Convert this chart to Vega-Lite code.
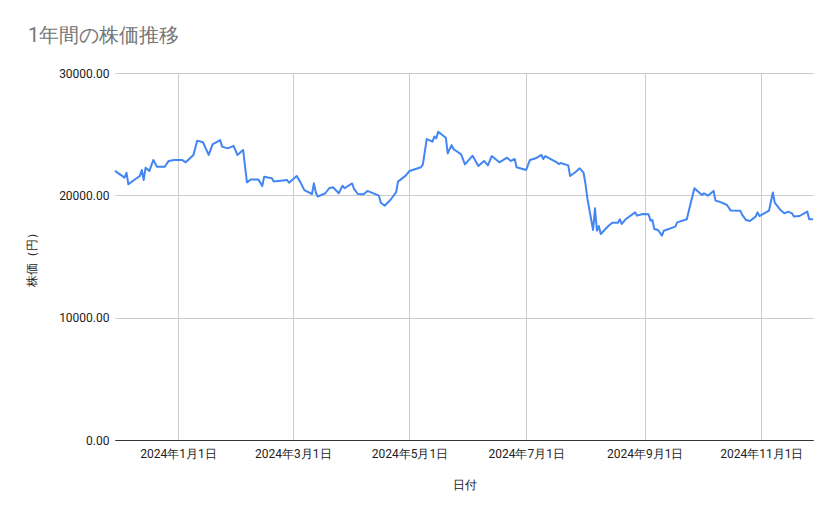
{
  "$schema": "https://vega.github.io/schema/vega-lite/v6.json",
  "width": 698,
  "height": 367,
  "autosize": "none",
  "padding": {"left": 115, "top": 73, "right": 26, "bottom": 79},
  "background": "white",
  "title": {
    "text": "1年間の株価推移",
    "anchor": "start",
    "frame": "group",
    "dx": -87,
    "offset": 5,
    "baseline": "alphabetic",
    "fontSize": 20,
    "fontWeight": "normal",
    "color": "#757575",
    "font": "Roboto"
  },
  "config": {
    "font": "Roboto",
    "view": {"stroke": null}
  },
  "data": {
    "values": [
      {"date": "2023-11-29", "price": 22000},
      {"date": "2023-12-04", "price": 21450},
      {"date": "2023-12-05", "price": 21850},
      {"date": "2023-12-06", "price": 20900},
      {"date": "2023-12-09", "price": 21250},
      {"date": "2023-12-12", "price": 21580},
      {"date": "2023-12-13", "price": 22070},
      {"date": "2023-12-14", "price": 21250},
      {"date": "2023-12-15", "price": 22260},
      {"date": "2023-12-17", "price": 22000},
      {"date": "2023-12-19", "price": 22890},
      {"date": "2023-12-21", "price": 22340},
      {"date": "2023-12-25", "price": 22340},
      {"date": "2023-12-27", "price": 22800},
      {"date": "2023-12-30", "price": 22890},
      {"date": "2024-01-03", "price": 22890},
      {"date": "2024-01-05", "price": 22700},
      {"date": "2024-01-09", "price": 23300},
      {"date": "2024-01-11", "price": 24470},
      {"date": "2024-01-14", "price": 24340},
      {"date": "2024-01-17", "price": 23300},
      {"date": "2024-01-19", "price": 24170},
      {"date": "2024-01-23", "price": 24520},
      {"date": "2024-01-24", "price": 23980},
      {"date": "2024-01-27", "price": 23840},
      {"date": "2024-01-30", "price": 24050},
      {"date": "2024-02-01", "price": 23300},
      {"date": "2024-02-04", "price": 23710},
      {"date": "2024-02-06", "price": 21060},
      {"date": "2024-02-08", "price": 21300},
      {"date": "2024-02-12", "price": 21300},
      {"date": "2024-02-14", "price": 20760},
      {"date": "2024-02-15", "price": 21520},
      {"date": "2024-02-19", "price": 21390},
      {"date": "2024-02-20", "price": 21140},
      {"date": "2024-02-27", "price": 21250},
      {"date": "2024-02-28", "price": 21030},
      {"date": "2024-03-03", "price": 21580},
      {"date": "2024-03-05", "price": 21060},
      {"date": "2024-03-07", "price": 20430},
      {"date": "2024-03-11", "price": 20110},
      {"date": "2024-03-12", "price": 20980},
      {"date": "2024-03-13", "price": 20250},
      {"date": "2024-03-14", "price": 19900},
      {"date": "2024-03-18", "price": 20170},
      {"date": "2024-03-20", "price": 20580},
      {"date": "2024-03-22", "price": 20660},
      {"date": "2024-03-25", "price": 20170},
      {"date": "2024-03-27", "price": 20790},
      {"date": "2024-03-28", "price": 20580},
      {"date": "2024-04-01", "price": 20970},
      {"date": "2024-04-02", "price": 20520},
      {"date": "2024-04-04", "price": 20110},
      {"date": "2024-04-07", "price": 20090},
      {"date": "2024-04-09", "price": 20360},
      {"date": "2024-04-15", "price": 19970},
      {"date": "2024-04-16", "price": 19400},
      {"date": "2024-04-18", "price": 19150},
      {"date": "2024-04-21", "price": 19620},
      {"date": "2024-04-24", "price": 20250},
      {"date": "2024-04-25", "price": 21120},
      {"date": "2024-04-29", "price": 21610},
      {"date": "2024-05-01", "price": 21990},
      {"date": "2024-05-07", "price": 22290},
      {"date": "2024-05-08", "price": 22530},
      {"date": "2024-05-10", "price": 24600},
      {"date": "2024-05-13", "price": 24390},
      {"date": "2024-05-14", "price": 24800},
      {"date": "2024-05-15", "price": 24660},
      {"date": "2024-05-16", "price": 25200},
      {"date": "2024-05-20", "price": 24710},
      {"date": "2024-05-21", "price": 23430},
      {"date": "2024-05-23", "price": 24110},
      {"date": "2024-05-24", "price": 23790},
      {"date": "2024-05-28", "price": 23350},
      {"date": "2024-05-30", "price": 22530},
      {"date": "2024-06-03", "price": 23240},
      {"date": "2024-06-06", "price": 22400},
      {"date": "2024-06-09", "price": 22810},
      {"date": "2024-06-11", "price": 22450},
      {"date": "2024-06-13", "price": 23210},
      {"date": "2024-06-17", "price": 22700},
      {"date": "2024-06-21", "price": 23080},
      {"date": "2024-06-23", "price": 22810},
      {"date": "2024-06-25", "price": 22970},
      {"date": "2024-06-26", "price": 22290},
      {"date": "2024-07-01", "price": 22070},
      {"date": "2024-07-03", "price": 22890},
      {"date": "2024-07-06", "price": 23030},
      {"date": "2024-07-09", "price": 23300},
      {"date": "2024-07-10", "price": 22970},
      {"date": "2024-07-11", "price": 23210},
      {"date": "2024-07-17", "price": 22700},
      {"date": "2024-07-18", "price": 22560},
      {"date": "2024-07-19", "price": 22640},
      {"date": "2024-07-23", "price": 22450},
      {"date": "2024-07-24", "price": 21580},
      {"date": "2024-07-27", "price": 21930},
      {"date": "2024-07-29", "price": 22210},
      {"date": "2024-07-31", "price": 21850},
      {"date": "2024-08-01", "price": 20980},
      {"date": "2024-08-02", "price": 19750},
      {"date": "2024-08-05", "price": 17170},
      {"date": "2024-08-06", "price": 18940},
      {"date": "2024-08-07", "price": 17110},
      {"date": "2024-08-08", "price": 17490},
      {"date": "2024-08-09", "price": 16840},
      {"date": "2024-08-13", "price": 17490},
      {"date": "2024-08-15", "price": 17760},
      {"date": "2024-08-18", "price": 17760},
      {"date": "2024-08-19", "price": 18040},
      {"date": "2024-08-20", "price": 17660},
      {"date": "2024-08-22", "price": 18040},
      {"date": "2024-08-27", "price": 18610},
      {"date": "2024-08-28", "price": 18340},
      {"date": "2024-08-31", "price": 18470},
      {"date": "2024-09-03", "price": 18450},
      {"date": "2024-09-04", "price": 17940},
      {"date": "2024-09-05", "price": 17980},
      {"date": "2024-09-06", "price": 17250},
      {"date": "2024-09-08", "price": 17170},
      {"date": "2024-09-10", "price": 16710},
      {"date": "2024-09-11", "price": 17110},
      {"date": "2024-09-17", "price": 17440},
      {"date": "2024-09-18", "price": 17790},
      {"date": "2024-09-23", "price": 18040},
      {"date": "2024-09-25", "price": 19340},
      {"date": "2024-09-27", "price": 20580},
      {"date": "2024-09-29", "price": 20300},
      {"date": "2024-10-01", "price": 20030},
      {"date": "2024-10-02", "price": 20170},
      {"date": "2024-10-04", "price": 19970},
      {"date": "2024-10-07", "price": 20360},
      {"date": "2024-10-08", "price": 19570},
      {"date": "2024-10-10", "price": 19480},
      {"date": "2024-10-13", "price": 19290},
      {"date": "2024-10-14", "price": 19210},
      {"date": "2024-10-16", "price": 18750},
      {"date": "2024-10-21", "price": 18730},
      {"date": "2024-10-22", "price": 18400},
      {"date": "2024-10-24", "price": 17980},
      {"date": "2024-10-26", "price": 17900},
      {"date": "2024-10-29", "price": 18260},
      {"date": "2024-10-30", "price": 18610},
      {"date": "2024-10-31", "price": 18310},
      {"date": "2024-11-05", "price": 18750},
      {"date": "2024-11-07", "price": 20230},
      {"date": "2024-11-08", "price": 19400},
      {"date": "2024-11-11", "price": 18800},
      {"date": "2024-11-13", "price": 18530},
      {"date": "2024-11-15", "price": 18670},
      {"date": "2024-11-17", "price": 18530},
      {"date": "2024-11-18", "price": 18260},
      {"date": "2024-11-21", "price": 18310},
      {"date": "2024-11-25", "price": 18670},
      {"date": "2024-11-26", "price": 18040},
      {"date": "2024-11-28", "price": 18040}
    ]
  },
  "mark": {"type": "line", "color": "#4285F4", "strokeWidth": 2, "strokeJoin": "round"},
  "encoding": {
    "x": {
      "field": "date",
      "type": "temporal",
      "scale": {"type": "utc", "nice": false},
      "axis": {
        "title": "日付",
        "tickCount": {"interval": "month", "step": 2},
        "labelExpr": "utcFormat(datum.value, '%Y年%-m月%-d日')",
        "labelFontSize": 12,
        "labelColor": "#222222",
        "labelPadding": 8,
        "labelFlush": false,
        "labelOverlap": false,
        "ticks": false,
        "grid": true,
        "gridColor": "#cccccc",
        "domainColor": "#333333",
        "titleFontSize": 12,
        "titleFontWeight": "normal",
        "titleColor": "#222222",
        "titlePadding": 20
      }
    },
    "y": {
      "field": "price",
      "type": "quantitative",
      "scale": {"domain": [0, 30000], "nice": false},
      "axis": {
        "title": "株価（円）",
        "values": [0, 10000, 20000, 30000],
        "format": ".2f",
        "labelFontSize": 12,
        "labelColor": "#222222",
        "labelPadding": 6,
        "ticks": false,
        "domain": false,
        "grid": true,
        "gridColor": {"condition": {"test": "datum.value === 0", "value": "#333333"}, "value": "#cccccc"},
        "titleFontSize": 12,
        "titleFontWeight": "normal",
        "titleColor": "#222222",
        "titlePadding": 20
      }
    }
  }
}
